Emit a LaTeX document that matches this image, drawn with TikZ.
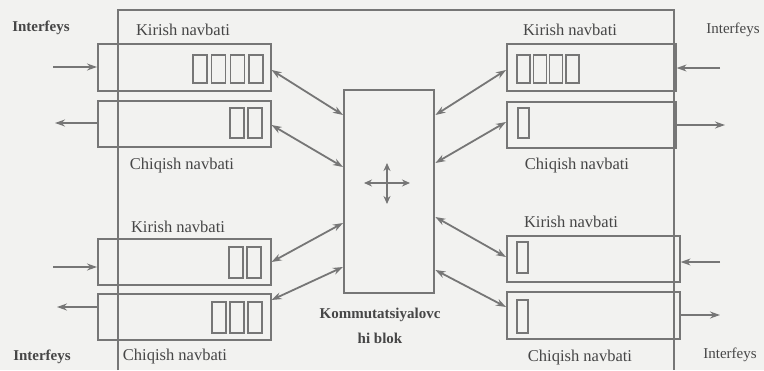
\documentclass[tikz,border=0pt]{standalone}
\usepackage{fontspec}
\setmainfont{Liberation Serif}
\usetikzlibrary{arrows.meta}
\definecolor{bgc}{RGB}{242,242,240}
\definecolor{lnc}{RGB}{118,118,118}
\definecolor{txc}{RGB}{70,70,70}
\tikzset{
  qbox/.style={draw=lnc,line width=1.6pt,rectangle,inner sep=0pt,anchor=north west},
  cblock/.style={draw=lnc,line width=2.4pt,rectangle,inner sep=0pt,anchor=north west,minimum width=90pt,minimum height=203pt},
  cell/.style={draw=lnc,line width=1.3pt},
  darr/.style={draw=lnc,line width=1.8pt,{Stealth[length=10pt,width=7pt]}-{Stealth[length=10pt,width=7pt]}},
  iarr/.style={draw=lnc,line width=1.4pt,-{Stealth[length=10pt,width=7pt]}},
  lbl/.style={text=txc,font=\fontsize{16.5}{19}\selectfont,inner sep=0pt},
  slbl/.style={text=txc,font=\fontsize{15}{17}\selectfont,inner sep=0pt},
  blbl/.style={text=txc,font=\fontsize{15}{17}\selectfont\bfseries,inner sep=0pt},
}
\begin{document}
\begin{tikzpicture}[x=1pt,y=-1pt]
\useasboundingbox (0,0) rectangle (764,370);
\fill[bgc] (0,0) rectangle (764,370);
% outer frame
\draw[lnc,line width=2.8pt] (118,370) -- (118,10) -- (674,10) -- (674,370);
% queue boxes
\node[qbox,minimum width=173pt,minimum height=47pt] (L1) at (97,43) {};
\node[qbox,minimum width=173pt,minimum height=46pt] (L2) at (97,100) {};
\node[qbox,minimum width=173pt,minimum height=46pt] (L3) at (97,238) {};
\node[qbox,minimum width=173pt,minimum height=46pt] (L4) at (97,293) {};
\node[qbox,minimum width=169pt,minimum height=47pt] (R1) at (506,43) {};
\node[qbox,minimum width=169pt,minimum height=46pt] (R2) at (506,101) {};
\node[qbox,minimum width=173pt,minimum height=46pt] (R3) at (506,235) {};
\node[qbox,minimum width=173pt,minimum height=47pt] (R4) at (506,291) {};
% central block
\node[cblock] (C) at (343,89) {};
% cells
\foreach \x in {193,211.7,230.3,249} \draw[cell] (\x,55) rectangle ++(14,28);
\foreach \x in {230,248} \draw[cell] (\x,108) rectangle ++(14,30);
\foreach \x in {229,247} \draw[cell] (\x,247) rectangle ++(14,31);
\foreach \x in {212,230,248} \draw[cell] (\x,302) rectangle ++(14,31);
\foreach \x in {517,533.3,549.7,566} \draw[cell] (\x,55) rectangle ++(13,28);
\draw[cell] (518,108) rectangle ++(11,30);
\draw[cell] (517,242) rectangle ++(11,31);
\draw[cell] (517,300) rectangle ++(11,33);
% cross icon
\coordinate (xc) at (387,183);
\draw[lnc,line width=1.2pt,{Stealth[length=8pt,width=7pt]}-{Stealth[length=8pt,width=7pt]}] ([xshift=-23pt]xc) -- ([xshift=23pt]xc);
\draw[lnc,line width=1.2pt,{Stealth[length=8pt,width=7pt]}-{Stealth[length=8pt,width=7pt]}] ([yshift=-21pt]xc) -- ([yshift=20pt]xc);
% center-side points
\coordinate (cl1) at (C.west |- 0,115);
\coordinate (cl2) at (C.west |- 0,167);
\coordinate (cl3) at (C.west |- 0,223);
\coordinate (cl4) at (C.west |- 0,267);
\coordinate (cr1) at (C.east |- 0,115);
\coordinate (cr2) at (C.east |- 0,163);
\coordinate (cr3) at (C.east |- 0,217);
\coordinate (cr4) at (C.east |- 0,270);
% box-to-block connectors
\draw[darr] (L1.east |- 0,70) -- (cl1);
\draw[darr] (L2.east |- 0,125) -- (cl2);
\draw[darr] (L3.east |- 0,262) -- (cl3);
\draw[darr] (L4.east |- 0,300) -- (cl4);
\draw[darr] (R1.west |- 0,70) -- (cr1);
\draw[darr] (R2.west |- 0,122) -- (cr2);
\draw[darr] (R3.west |- 0,257) -- (cr3);
\draw[darr] (R4.west |- 0,307) -- (cr4);
% interface arrows
\coordinate (li1) at (53,67);
\coordinate (lo2) at (55,123);
\coordinate (li3) at (53,267);
\coordinate (lo4) at (57,307);
\coordinate (ri1) at (720,68);
\coordinate (ro2) at (725,125);
\coordinate (ri3) at (720,262);
\coordinate (ro4) at (720,315);
\draw[iarr] (li1) -- (li1 -| L1.west);
\draw[iarr] (lo2 -| L2.west) -- (lo2);
\draw[iarr] (li3) -- (li3 -| L3.west);
\draw[iarr] (lo4 -| L4.west) -- (lo4);
\draw[iarr] (ri1) -- (ri1 -| R1.east);
\draw[iarr] (ro2 -| R2.east) -- (ro2);
\draw[iarr] (ri3) -- (ri3 -| R3.east);
\draw[iarr] (ro4 -| R4.east) -- (ro4);
% labels
\node[blbl] (t1) at (41,28) {Interfeys};
\node[lbl] (t2) at (183,30) {Kirish navbati};
\node[lbl] (t3) at (182,166) {Chiqish navbati};
\node[lbl] (t4) at (178,227) {Kirish navbati};
\node[lbl] (t5) at (175,357) {Chiqish navbati};
\node[blbl] (t6) at (42,357) {Interfeys};
\node[lbl] (t7) at (570,30) {Kirish navbati};
\node[slbl] (t8) at (733,30) {Interfeys};
\node[lbl] (t9) at (577,166) {Chiqish navbati};
\node[lbl] (t10) at (571,222) {Kirish navbati};
\node[lbl] (t11) at (580,358) {Chiqish navbati};
\node[slbl] (t12) at (730,355) {Interfeys};
\node[blbl] (t13) at (380,315) {Kommutatsiyalovc};
\node[blbl] (t14) at (380,338) {hi blok};
\end{tikzpicture}
\end{document}
